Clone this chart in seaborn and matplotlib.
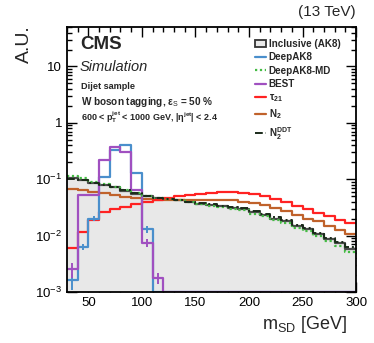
import numpy as np
import pandas as pd
import matplotlib
matplotlib.use("Agg")
import matplotlib.pyplot as plt
import seaborn as sns
from matplotlib.patches import Patch
from matplotlib.lines import Line2D
from matplotlib.ticker import MultipleLocator, LogLocator, NullFormatter

sns.set_theme(style="ticks")
plt.rcParams["font.family"] = ["Liberation Sans", "DejaVu Sans"]
plt.rcParams["mathtext.fontset"] = "custom"
plt.rcParams["mathtext.rm"] = "Liberation Sans"
plt.rcParams["mathtext.it"] = "Liberation Sans:italic"
plt.rcParams["mathtext.bf"] = "Liberation Sans:bold"
plt.rcParams["mathtext.default"] = "regular"

# ---------------- data (10 GeV bins, 30-300 GeV) ----------------
edges = list(range(30, 310, 10))
centers = [e + 5 for e in edges[:-1]]

inclusive = [0.105, 0.098, 0.086, 0.079, 0.072, 0.062, 0.055, 0.050, 0.046, 0.044,
             0.042, 0.039, 0.037, 0.035, 0.033, 0.031, 0.0296, 0.026, 0.0235, 0.020,
             0.0178, 0.0149, 0.013, 0.0107, 0.0087, 0.0073, 0.0058]
deepak8 = [0.0016, 0.0063, 0.020, 0.11, 0.33, 0.41, 0.13, 0.013, 0, 0,
           0, 0, 0, 0, 0, 0, 0, 0, 0, 0, 0, 0, 0, 0, 0, 0, 0]
deepak8_err = [0.0005, 0.0008, 0.002, 0, 0, 0, 0, 0.002, 0, 0,
               0, 0, 0, 0, 0, 0, 0, 0, 0, 0, 0, 0, 0, 0, 0, 0, 0]
deepak8_md = [0.112, 0.104, 0.090, 0.082, 0.074, 0.064, 0.056, 0.051, 0.047, 0.044,
              0.042, 0.039, 0.036, 0.034, 0.032, 0.030, 0.028, 0.0245, 0.022, 0.0188,
              0.0165, 0.0138, 0.012, 0.0098, 0.0080, 0.0066, 0.0052]
best = [0.0025, 0.052, 0.052, 0.22, 0.38, 0.30, 0.065, 0.0074, 0.0018, 0,
        0, 0, 0, 0, 0, 0, 0, 0, 0, 0, 0, 0, 0, 0, 0, 0, 0]
best_err = [0.0007, 0, 0, 0, 0, 0, 0, 0.0012, 0.0004, 0,
            0, 0, 0, 0, 0, 0, 0, 0, 0, 0, 0, 0, 0, 0, 0, 0, 0]
tau21 = [0.0060, 0.0115, 0.019, 0.026, 0.029, 0.032, 0.036, 0.039, 0.042, 0.046,
         0.050, 0.053, 0.055, 0.058, 0.059, 0.059, 0.058, 0.055, 0.050, 0.045,
         0.039, 0.034, 0.030, 0.025, 0.022, 0.019, 0.017]
n2 = [0.066, 0.063, 0.060, 0.057, 0.053, 0.049, 0.046, 0.044, 0.043, 0.042,
      0.042, 0.042, 0.043, 0.043, 0.043, 0.042, 0.040, 0.038, 0.035, 0.031,
      0.027, 0.023, 0.020, 0.018, 0.015, 0.0127, 0.0107]
n2_ddt = [0.100, 0.095, 0.086, 0.080, 0.073, 0.063, 0.056, 0.051, 0.047, 0.045,
          0.043, 0.040, 0.038, 0.036, 0.034, 0.032, 0.031, 0.027, 0.0245, 0.021,
          0.0185, 0.0156, 0.0137, 0.0113, 0.0092, 0.0077, 0.0062]

YMIN, YMAX = 1e-3, 50
y_ticks = [1e-3, 1e-2, 1e-1, 1, 10]
y_tick_labels = ["$10^{-3}$", "$10^{-2}$", "$10^{-1}$", "1", "10"]

# ---------------- figure ----------------
fig = plt.figure(figsize=(3.74, 3.43), dpi=100)
ax = fig.add_axes([0.179, 0.149, 0.773, 0.772])


def step(vals, fill=False, **kw):
    df = pd.DataFrame({"m": centers, "w": np.clip(vals, YMIN, None)})
    sns.histplot(data=df, x="m", weights="w", bins=edges,
                 element="step", fill=fill, ax=ax, **kw)


# inclusive: filled grey + dark outline
step(inclusive, fill=True, facecolor="#e8e8e8", edgecolor="none", alpha=1)
step(inclusive, color="#4a4a4a", linewidth=1.6)
step(n2, color="#c0622b", linewidth=1.6)
step(tau21, color="#ff2222", linewidth=1.6)
step(deepak8, color="#4a8fcc", linewidth=1.6)
step(best, color="#a050c0", linewidth=1.6)
step(deepak8_md, color="#44bb44", linewidth=1.6, linestyle=(0, (1, 1.2)))
step(n2_ddt, color="#1a2a1a", linewidth=1.4, linestyle=(0, (4, 1.5, 1, 1.5)))

ax.errorbar(centers, np.clip(deepak8, YMIN, None), yerr=deepak8_err, fmt="none",
            ecolor="#4a8fcc", elinewidth=1.4)
ax.errorbar(centers, np.clip(best, YMIN, None), yerr=best_err, fmt="none",
            ecolor="#a050c0", elinewidth=1.4)

ax.set_yscale("log")
ax.set_xlim(30, 300)
ax.set_ylim(YMIN, YMAX)
ax.set_yticks(y_ticks)
ax.set_yticklabels(y_tick_labels)
ax.yaxis.set_minor_locator(LogLocator(base=10, subs=np.arange(2, 10)))
ax.yaxis.set_minor_formatter(NullFormatter())
ax.xaxis.set_major_locator(MultipleLocator(50))
ax.xaxis.set_minor_locator(MultipleLocator(10))
ax.tick_params(which="both", direction="in", top=True, right=True, labelsize=9.5,
               width=1.0, colors="black")
ax.tick_params(which="major", length=7)
ax.tick_params(which="minor", length=3.5)
for s in ax.spines.values():
    s.set_linewidth(1.3)
    s.set_color("black")

ax.set_xlabel(r"m$_{\mathrm{SD}}$ [GeV]", fontsize=13, loc="right")
ax.xaxis.set_label_coords(0.97, -0.085)
ax.set_ylabel("A.U.", fontsize=14, loc="top")
ax.yaxis.set_label_coords(-0.118, 1.008)

# texts
ax.text(0.045, 0.965, "CMS", transform=ax.transAxes, fontsize=13.5, fontweight="bold",
        va="top", ha="left")
ax.text(0.045, 0.875, "Simulation", transform=ax.transAxes, fontsize=10.5,
        style="italic", va="top", ha="left")
ax.text(0.048, 0.775, "Dijet sample", transform=ax.transAxes, fontsize=6.6,
        fontweight="bold", va="center", ha="left")
ax.text(0.048, 0.718, r"W boson tagging, $\epsilon_{\mathrm{S}}$ = 50 %", transform=ax.transAxes,
        fontsize=7.2, fontweight="bold", va="center", ha="left")
ax.text(0.048, 0.66, r"600 < $\mathbf{p_T^{jet}}$ < 1000 GeV, |$\eta^{\mathbf{jet}}$| < 2.4",
        transform=ax.transAxes, fontsize=6.45, fontweight="bold", va="center", ha="left")
fig.text(0.952, 0.945, "(13 TeV)", fontsize=11, ha="right", va="bottom")

handles = [
    Patch(facecolor="#e8e8e8", edgecolor="#333333", linewidth=1.3),
    Line2D([], [], color="#4a8fcc", lw=1.6),
    Line2D([], [], color="#44bb44", lw=1.6, ls=(0, (1, 1.2))),
    Line2D([], [], color="#a050c0", lw=1.6),
    Line2D([], [], color="#ff2222", lw=1.6),
    Line2D([], [], color="#c0622b", lw=1.6),
    Line2D([], [], color="#1a2a1a", lw=1.4, ls=(0, (4, 1.5, 1, 1.5))),
]
labels = ["Inclusive (AK8)", "DeepAK8", "DeepAK8-MD", "BEST",
          r"$\tau_{\mathbf{21}}$", r"$\mathbf{N_2}$", r"$\mathbf{N_2^{DDT}}$"]
ax.legend(handles, labels, loc="upper left", bbox_to_anchor=(0.65, 0.955),
          frameon=False, prop={"weight": "bold", "size": 7.1}, handlelength=1.1,
          handletextpad=0.3, labelspacing=0.34, borderpad=0, borderaxespad=0)

fig.savefig("out.png", dpi=100)
